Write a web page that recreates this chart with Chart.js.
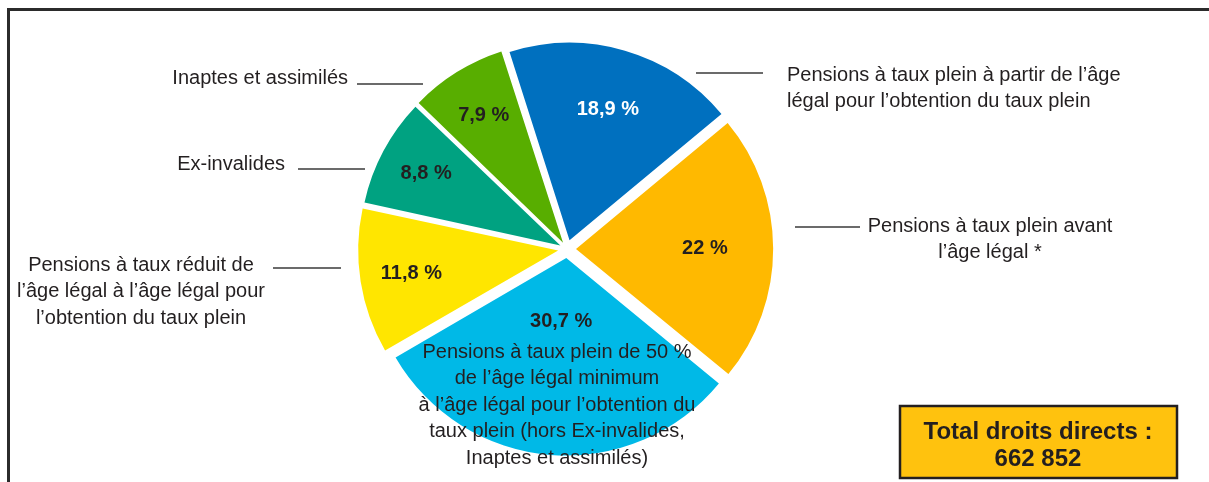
<!DOCTYPE html>
<html lang="fr">
<head>
<meta charset="UTF-8">
<title>Répartition des droits directs</title>
<script src="https://cdn.jsdelivr.net/npm/chart.js"></script>
<style>
  html, body { margin: 0; padding: 0; background: #fff; }
  .chart-container { position: relative; width: 1209px; height: 482px; }
</style>
</head>
<body>
<div class="chart-container"><canvas id="pensionChart"></canvas></div>
<script>
// slice labels, one array of lines per slice
const labelLines = [
  ['Pensions à taux plein à partir de l’âge', 'légal pour l’obtention du taux plein'],
  ['Pensions à taux plein avant', 'l’âge légal *'],
  ['Pensions à taux plein de 50 %', 'de l’âge légal minimum', 'à l’âge légal pour l’obtention du', 'taux plein (hors Ex-invalides,', 'Inaptes et assimilés)'],
  ['Pensions à taux réduit de', 'l’âge légal à l’âge légal pour', 'l’obtention du taux plein'],
  ['Ex-invalides'],
  ['Inaptes et assimilés']
];
const categories = labelLines.map(l => l.join(' '));
const shares = [18.9, 22, 30.7, 11.8, 8.8, 7.9];
const sliceColors = ['#0070bf', '#ffb900', '#00b9e7', '#ffe600', '#00a281', '#58ae00'];
const valueColors = ['#ffffff', '#231f20', '#231f20', '#231f20', '#231f20', '#231f20'];
const totalLines = ['Total droits directs :', '662 852'];

const FONT = '"Liberation Sans", Arial, sans-serif';
const TEXT = '#231f20';

// where the % label sits along the slice radius
const valueRadius = [0.74, 0.70, 0.37, 0.80, 0.81, 0.80];

// callout placement relative to the pie centre: text anchor, alignment, leader line
const callouts = [
  { x: 220, y: -174, align: 'left', line: [129, 196, -176] },
  { x: 423, y: -23, align: 'center', line: [228, 293, -22] },
  { x: -10, y: 103, align: 'center', line: null },
  { x: -426, y: 16, align: 'center', line: [-294, -226, 19] },
  { x: -282, y: -85, align: 'right', line: [-269, -202, -80] },
  { x: -219, y: -171, align: 'right', line: [-210, -144, -165] }
];

const annotations = {
  id: 'annotations',
  afterDatasetsDraw(chart) {
    const ctx = chart.ctx;
    const arcs = chart.getDatasetMeta(0).data;
    const cx = arcs[0].x, cy = arcs[0].y;
    ctx.save();

    // frame
    ctx.strokeStyle = '#2b2b2b';
    ctx.lineWidth = 3;
    ctx.beginPath();
    ctx.moveTo(8.5, 482);
    ctx.lineTo(8.5, 9.5);
    ctx.lineTo(1209, 9.5);
    ctx.stroke();

    // % values inside slices
    ctx.textBaseline = 'middle';
    ctx.textAlign = 'center';
    ctx.font = 'bold 20px ' + FONT;
    arcs.forEach((arc, i) => {
      const mid = (arc.startAngle + arc.endAngle) / 2;
      const r = arc.outerRadius * valueRadius[i];
      ctx.fillStyle = valueColors[i];
      ctx.fillText(String(shares[i]).replace('.', ',') + ' %', arc.x + Math.cos(mid) * r, arc.y + Math.sin(mid) * r);
    });

    // callout texts and leader lines
    ctx.font = '20px ' + FONT;
    ctx.fillStyle = TEXT;
    ctx.strokeStyle = '#3a3a3a';
    ctx.lineWidth = 1.5;
    callouts.forEach((c, i) => {
      ctx.textAlign = c.align;
      labelLines[i].forEach((t, k) => ctx.fillText(t, cx + c.x, cy + c.y + k * 26.5));
      if (c.line) {
        ctx.beginPath();
        ctx.moveTo(cx + c.line[0], cy + c.line[2]);
        ctx.lineTo(cx + c.line[1], cy + c.line[2]);
        ctx.stroke();
      }
    });

    // total box
    ctx.fillStyle = '#ffc20e';
    ctx.fillRect(900, 406, 277, 72);
    ctx.strokeStyle = '#231f20';
    ctx.lineWidth = 2.5;
    ctx.strokeRect(900, 406, 277, 72);
    ctx.fillStyle = TEXT;
    ctx.textAlign = 'center';
    ctx.font = 'bold 24px ' + FONT;
    totalLines.forEach((t, k) => ctx.fillText(t, 1038, 432 + k * 27));

    ctx.restore();
  }
};

new Chart(document.getElementById('pensionChart'), {
  type: 'pie',
  data: {
    labels: categories,
    datasets: [{
      data: shares,
      backgroundColor: sliceColors,
      borderWidth: 0,
      offset: [36, 36, 36, 36, 30, 30],
      clip: false
    }]
  },
  options: {
    responsive: true,
    maintainAspectRatio: false,
    animation: false,
    rotation: -17.7,
    radius: 197,
    layout: { padding: { left: 0, right: 75, top: 16, bottom: 0 } },
    plugins: {
      legend: { display: false },
      tooltip: { enabled: false }
    }
  },
  plugins: [annotations]
});
</script>
</body>
</html>
